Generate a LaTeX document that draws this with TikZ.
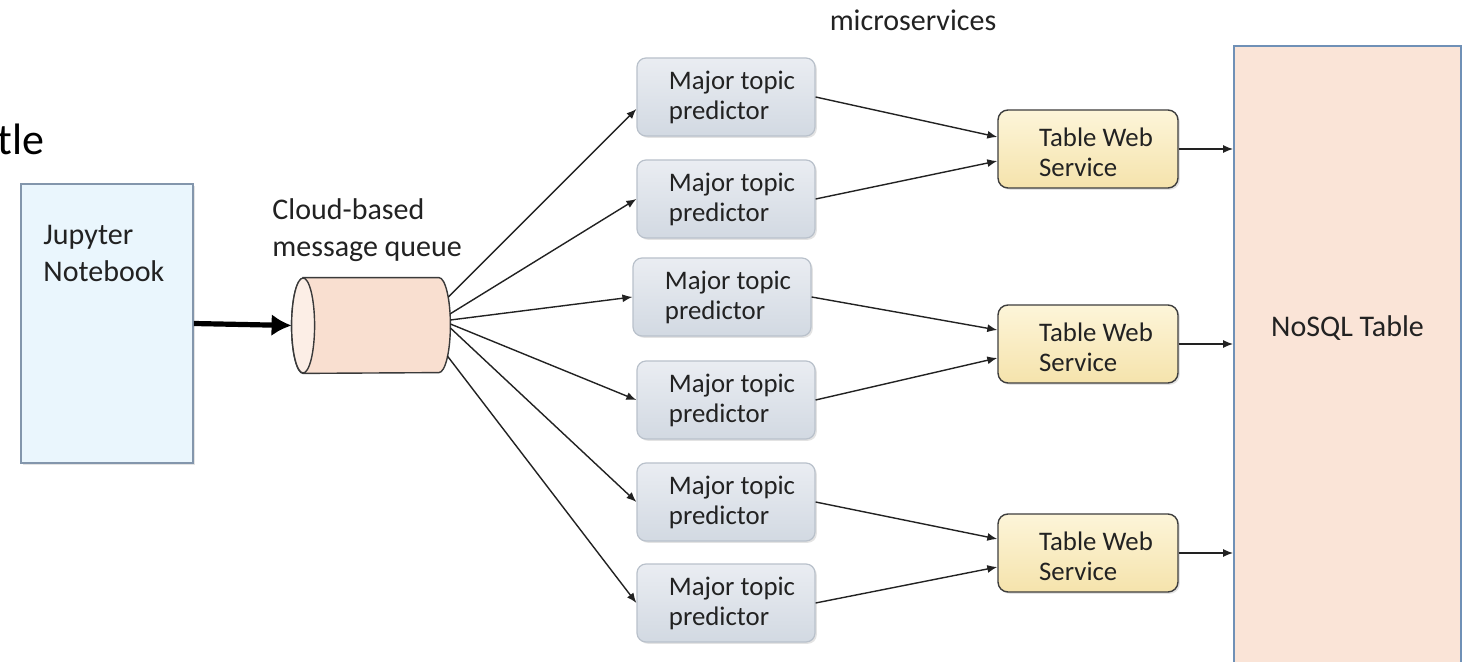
\documentclass[tikz,border=0pt]{standalone}
\usepackage{fontspec}
\setmainfont{Carlito}
\usetikzlibrary{arrows.meta,shadows,calc}

\definecolor{jupfill}{HTML}{EAF6FD}
\definecolor{jupline}{HTML}{8396AC}
\definecolor{predtop}{HTML}{EAEDF2}
\definecolor{predbot}{HTML}{D2D9E2}
\definecolor{predline}{HTML}{B9C1CB}
\definecolor{twstop}{HTML}{FDF5D9}
\definecolor{twsbot}{HTML}{F5E3AC}
\definecolor{twsline}{HTML}{3E3E3E}
\definecolor{qbody}{HTML}{F9DFD0}
\definecolor{qend}{HTML}{FCEEE6}
\definecolor{qline}{HTML}{3A3A3A}
\definecolor{dbfill}{HTML}{FAE4D7}
\definecolor{dbline}{HTML}{6F90B6}
\definecolor{ink}{HTML}{222222}

\begin{document}
\begin{tikzpicture}[x=0.5pt,y=-0.5pt,
  big/.style={font=\fontsize{15}{18.5}\selectfont, text=ink},
  small/.style={font=\fontsize{13.4}{15}\selectfont, text=ink},
  shadowed/.style={drop shadow={opacity=0.22, shadow xshift=0.9pt, shadow yshift=-0.9pt}},
  pred/.style={rectangle, rounded corners=4.5pt, draw=predline, line width=0.6pt,
    top color=predtop, bottom color=predbot, minimum width=89pt, minimum height=39pt,
    inner sep=0pt, shadowed},
  tws/.style={rectangle, rounded corners=5pt, draw=twsline, line width=0.7pt,
    top color=twstop, bottom color=twsbot, minimum width=90pt, minimum height=39pt,
    inner sep=0pt, shadowed},
  jupbox/.style={rectangle, draw=jupline, line width=0.9pt, fill=jupfill,
    minimum width=86pt, minimum height=139.5pt, inner sep=0pt, shadowed},
  dbbox/.style={rectangle, draw=dbline, line width=0.9pt, fill=dbfill,
    minimum width=113.5pt, minimum height=327pt, inner sep=0pt},
  arr/.style={draw=ink, line width=0.7pt, -{Latex[length=5pt, width=4pt]}},
  fat/.style={draw=black, line width=2.6pt, -{Latex[length=10pt, width=11pt]}}
]
\useasboundingbox (0,0) rectangle (1462,662);
\fill[white] (0,0) rectangle (1462,662);
\clip (0,0) rectangle (1462,662);

% headings and free labels
\node[font=\fontsize{22}{26}\selectfont, text=black, anchor=base west, inner sep=0pt] (ttl) at (-3,155) {tle};
\node[big] (ms) at (913,20) {microservices};
\node[big, anchor=west, align=left, inner sep=0pt] (qlabel) at (272,230) {Cloud-based\\message queue};

% notebook
\node[jupbox] (jup) at (107,323.5) {};
\node[big, anchor=west, align=left, inner sep=0pt] (juptext) at (43,253.5) {Jupyter\\Notebook};

% message queue drawn as a lying cylinder
\node[minimum width=79pt, minimum height=47.5pt, inner sep=0pt] (mq) at (371,325.5) {};
\draw[draw=qline, line width=0.7pt, fill=qbody]
  ($(mq.north west)+(11.5,0)$) -- ($(mq.north east)+(-11.5,0)$)
  arc[start angle=90, end angle=-90, x radius=5.75pt, y radius=23.75pt]
  -- ($(mq.south west)+(11.5,0)$)
  arc[start angle=270, end angle=90, x radius=5.75pt, y radius=23.75pt] -- cycle;
\draw[draw=qline, line width=0.7pt, fill=qend]
  ($(mq.west)+(11.5,0)$) ellipse[x radius=5.75pt, y radius=23.75pt];

% predictor microservices
\foreach \n/\x/\y in {1/726/97, 2/726/199, 3/722/297, 4/726/400, 5/726/502, 6/726/603}
  \node[pred, label={[small, align=left, xshift=3pt]center:Major topic\\predictor}] (p\n) at (\x,\y) {};

% table web services
\foreach \n/\y in {1/149, 2/344, 3/553}
  \node[tws, label={[small, align=left, xshift=4pt, yshift=-1.5pt]center:Table Web\\Service}] (t\n) at (1088,\y) {};

% storage
\node[dbbox, label={[big, yshift=22.5pt]center:NoSQL Table}] (db) at (1347.5,373) {};

% connectors
\draw[fat] (jup.east) -- (mq.west);

\draw[arr] ($(mq.east)+(-2,-28.5)$) -- ($(p1.west)+(0,12)$);
\draw[arr] ($(mq.east)+(-0.5,-11.5)$) -- (p2.west);
\draw[arr] ($(mq.east)+(0,-5.5)$) -- (p3.west);
\draw[arr] ($(mq.east)+(0,-1.5)$) -- (p4.west);
\draw[arr] ($(mq.east)+(0,2.5)$) -- (p5.west);
\draw[arr] ($(mq.east)+(-3,30.5)$) -- (p6.west);

\draw[arr] (p1.east) -- ($(t1.west)+(0,-12)$);
\draw[arr] (p2.east) -- ($(t1.west)+(0,12)$);
\draw[arr] (p3.east) -- ($(t2.west)+(0,-14)$);
\draw[arr] (p4.east) -- ($(t2.west)+(0,14)$);
\draw[arr] (p5.east) -- ($(t3.west)+(0,-14)$);
\draw[arr] (p6.east) -- ($(t3.west)+(0,14)$);

\foreach \n in {1,2,3}
  \draw[arr] (t\n.east) -- (t\n.east -| db.west);
\end{tikzpicture}
\end{document}
